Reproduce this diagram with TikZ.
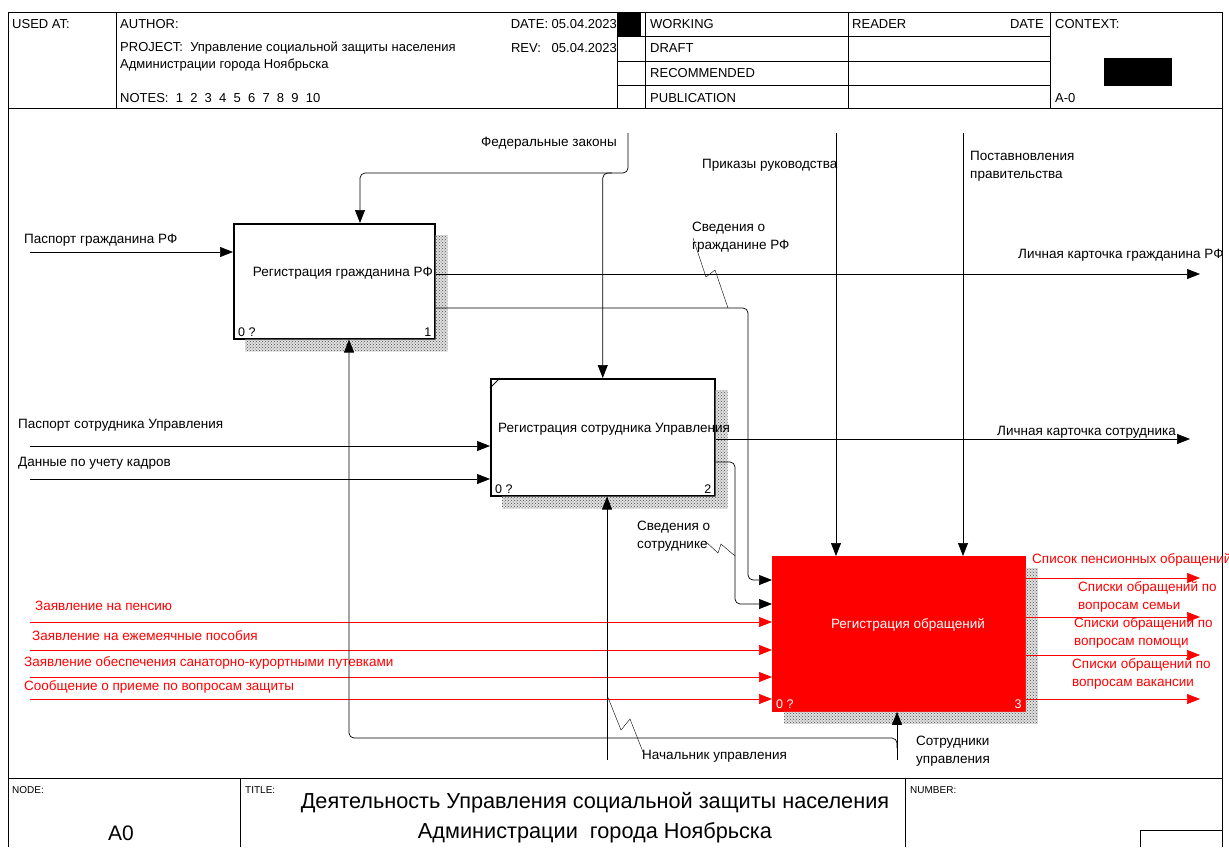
\documentclass[tikz,border=0pt]{standalone}
\usepackage{fontspec}
\setmainfont{Liberation Sans}
\usetikzlibrary{arrows.meta, patterns}

\tikzset{
  fbox/.style={draw, line width=1.5pt, anchor=north west, inner sep=0pt},
  arr/.style={line width=0.7pt, -{Triangle[length=13pt, width=10pt]}},
  rarr/.style={arr, color=red},
  lbl/.style={font=\fontsize{13.5}{18}\selectfont, inner sep=0pt, anchor=west, align=left},
  rlbl/.style={lbl, text=red},
  hdr/.style={font=\fontsize{13}{15}\selectfont, inner sep=0pt, anchor=west},
  num/.style={font=\fontsize{12.5}{14}\selectfont, inner sep=0pt},
  boxshadow/.style={fill=black!12, postaction={pattern=crosshatch dots, pattern color=black!70}},
}

\begin{document}
\begin{tikzpicture}[x=1pt, y=-1pt]
    \useasboundingbox (0,0) rectangle (1229,847);

    % frame and header
    \draw[line width=0.8pt] (8,847) -- (8,12) -- (1222,12) -- (1222,847);
    \draw[line width=0.8pt] (8,108) -- (1222,108);
    \draw (116,12) -- (116,108);
    \draw (617,12) -- (617,108);
    \draw[line width=1pt] (645,12) -- (645,108);
    \draw (848,12) -- (848,108);
    \draw (1050,12) -- (1050,108);
    \draw (617,36) -- (1050,36);
    \draw (617,61) -- (1050,61);
    \draw (617,85) -- (1050,85);
    \fill (617,12) rectangle (641,36);
    \fill (1104,58) rectangle (1172,86);

    \node[hdr] (usedat) at (12,24) {USED AT:};
    \node[hdr] (author) at (120,24) {AUTHOR:};
    \node[hdr] (project) at (120,48) {PROJECT:\ \ Управление социальной защиты населения};
    \node[hdr] (project2) at (120,65) {Администрации города Ноябрьска};
    \node[hdr] (notes) at (120,98) {NOTES:\ \ 1\ \ 2\ \ 3\ \ 4\ \ 5\ \ 6\ \ 7\ \ 8\ \ 9\ \ 10};
    \node[hdr, anchor=east] (date) at (617,24) {DATE: 05.04.2023};
    \node[hdr, anchor=east] (rev) at (617,48) {REV:\ \ \ 05.04.2023};
    \node[hdr] (working) at (650,24) {WORKING};
    \node[hdr] (draft) at (650,48) {DRAFT};
    \node[hdr] (recommended) at (650,73) {RECOMMENDED};
    \node[hdr] (publication) at (650,98) {PUBLICATION};
    \node[hdr] (reader) at (852,24) {READER};
    \node[hdr, anchor=east] (rdate) at (1044,24) {DATE};
    \node[hdr] (context) at (1055,24) {CONTEXT:};
    \node[hdr] (ctxnode) at (1055,98) {A-0};

    % footer
    \draw[line width=0.8pt] (8,778) -- (1222,778);
    \draw (240,778) -- (240,847);
    \draw (905,778) -- (905,847);
    \draw (1140,847) -- (1140,830) -- (1222,830);
    \node[hdr, font=\fontsize{10}{12}\selectfont] (nodelbl) at (12,790) {NODE:};
    \node[hdr, font=\fontsize{10}{12}\selectfont] (titlelbl) at (245,790) {TITLE:};
    \node[hdr, font=\fontsize{10}{12}\selectfont] (numberlbl) at (910,790) {NUMBER:};
    \node[font=\fontsize{21}{24}\selectfont, inner sep=0pt] (nodeval) at (121,833) {A0};
    \node[font=\fontsize{21.7}{30}\selectfont, inner sep=0pt, align=center] (title) at (595,818)
        {Деятельность Управления социальной защиты населения\\Администрации\ \ города Ноябрьска};

    % activity boxes
    \node[fbox, minimum width=201pt, minimum height=115pt] (b1) at (233,223) {};
    \node[fbox, minimum width=224pt, minimum height=117pt] (b2) at (490,378) {};
    \node[fbox, draw=red, fill=red, line width=0.8pt, minimum width=253pt, minimum height=155pt] (b3) at (772,556) {};
    \foreach \b in {b1,b2,b3}
        \fill[boxshadow] ([yshift=-12pt]\b.north east) -- ([shift={(12pt,-12pt)}]\b.north east)
            -- ([shift={(12pt,-12pt)}]\b.south east) -- ([shift={(12pt,-12pt)}]\b.south west)
            -- ([xshift=12pt]\b.south west) -- (\b.south east) -- cycle;
    \draw[line width=1pt] ([yshift=-10pt]b2.north west) -- ([xshift=10pt]b2.north west);

    \node[lbl, anchor=east] (t1) at (433,273) {Регистрация гражданина РФ};
    \node[lbl] (t2) at (498,429) {Регистрация сотрудника Управления};
    \node[lbl, anchor=center, text=white] (t3) at (908,625) {Регистрация обращений};
    \node[num, anchor=south west] (n1a) at ([shift={(5pt,3pt)}]b1.south west) {0 ?};
    \node[num, anchor=south east] (n1b) at ([shift={(-4pt,3pt)}]b1.south east) {1};
    \node[num, anchor=south west] (n2a) at ([shift={(5pt,3pt)}]b2.south west) {0 ?};
    \node[num, anchor=south east] (n2b) at ([shift={(-4pt,3pt)}]b2.south east) {2};
    \node[num, anchor=south west, text=white] (n3a) at ([shift={(4pt,3pt)}]b3.south west) {0 ?};
    \node[num, anchor=south east, text=white] (n3b) at ([shift={(-4pt,3pt)}]b3.south east) {3};

    % controls
    \coordinate (fz) at (628,133);
    \coordinate (fz1) at (360,173);
    \coordinate (fz2) at (612,173);
    \draw[arr, rounded corners=5pt] (fz) |- (fz1) -- (fz1 |- b1.north);
    \draw[arr, rounded corners=5pt] (fz2) -| (b2.north);
    \node[lbl, anchor=east] (l-fz) at (617,143) {Федеральные законы};

    \coordinate (pr) at (836,133);
    \draw[arr] (pr) -- (pr |- b3.north);
    \node[lbl] (l-pr) at (702,165) {Приказы руководства};
    \coordinate (pp) at (963,133);
    \draw[arr] (pp) -- (pp |- b3.north);
    \node[lbl] (l-pp) at (970,166) {Поставновления\\правительства};

    % inputs
    \coordinate (pg) at (30,252);
    \draw[arr] (pg) -- (pg -| b1.west);
    \node[lbl] (l-pg) at (24,240) {Паспорт гражданина РФ};
    \coordinate (ps) at (30,446);
    \draw[arr] (ps) -- (ps -| b2.west);
    \node[lbl] (l-ps) at (18,425) {Паспорт сотрудника Управления};
    \coordinate (dk) at (30,479);
    \draw[arr] (dk) -- (dk -| b2.west);
    \node[lbl] (l-dk) at (18,463) {Данные по учету кадров};

    \coordinate (zp) at (30,622);
    \draw[rarr] (zp) -- (zp -| b3.west);
    \node[rlbl] (l-zp) at (35,606) {Заявление на пенсию};
    \coordinate (zs) at (30,650);
    \draw[rarr] (zs) -- (zs -| b3.west);
    \node[rlbl] (l-zs) at (32,636) {Заявление на ежемеячные пособия};
    \coordinate (zk) at (30,677);
    \draw[rarr] (zk) -- (zk -| b3.west);
    \node[rlbl] (l-zk) at (24,663) {Заявление обеспечения санаторно-курортными путевками};
    \coordinate (so) at (30,699);
    \draw[rarr] (so) -- (so -| b3.west);
    \node[rlbl] (l-so) at (24,687) {Сообщение о приеме по вопросам защиты};

    % outputs
    \coordinate (lk) at (1200,274);
    \draw[arr] (b1.east |- lk) -- (lk);
    \node[lbl] (l-lk) at (1018,255) {Личная карточка гражданина РФ};
    \coordinate (sg1) at (748,308);
    \coordinate (sg2) at (748,580);
    \draw[arr, rounded corners=5pt] (b1.east |- sg1) -| (sg2) -- (sg2 -| b3.west);
    \node[lbl] (l-sg) at (692,237) {Сведения о\\гражданине РФ};
    \draw (693,238) -- (706,277) -- (715,270) -- (728,308);

    \coordinate (ls) at (1190,439);
    \draw[arr] (b2.east |- ls) -- (ls);
    \node[lbl, anchor=east] (l-ls) at (1176,432) {Личная карточка сотрудника};
    \coordinate (sc1) at (735,462);
    \coordinate (sc2) at (735,604);
    \draw[arr, rounded corners=5pt] (b2.east |- sc1) -| (sc2) -- (sc2 -| b3.west);
    \node[lbl] (l-sc) at (637,536) {Сведения о\\сотруднике};
    \draw (705,541) -- (718,553) -- (721,544) -- (735,556);

    \coordinate (sp) at (1200,578);
    \draw[rarr] (b3.east |- sp) -- (sp);
    \node[rlbl] (l-sp) at (1032,560) {Список пенсионных обращений};
    \coordinate (ss) at (1200,617);
    \draw[rarr] (b3.east |- ss) -- (ss);
    \node[rlbl] (l-ss) at (1078,597) {Списки обращений по\\вопросам семьи};
    \coordinate (sh) at (1200,655);
    \draw[rarr] (b3.east |- sh) -- (sh);
    \node[rlbl] (l-sh) at (1074,633) {Списки обращений по\\вопросам помощи};
    \coordinate (sv) at (1200,699);
    \draw[rarr] (b3.east |- sv) -- (sv);
    \node[rlbl] (l-sv) at (1072,674) {Списки обращений по\\вопросам вакансии};

    % mechanisms
    \coordinate (nu) at (607,760);
    \draw[arr] (nu) -- (nu |- b2.south);
    \node[lbl] (l-nu) at (642,756) {Начальник управления};
    \draw (607,695) -- (621,730) -- (630,719) -- (643,752);
    \coordinate (su) at (897,760);
    \coordinate (su1) at (897,748);
    \coordinate (su2) at (349,738);
    \draw[arr] (su) -- (su |- b3.south);
    \draw[arr, rounded corners=5pt] (su1) |- (su2) -- (su2 |- b1.south);
    \node[lbl] (l-su) at (916,751) {Сотрудники\\управления};
\end{tikzpicture}
\end{document}
